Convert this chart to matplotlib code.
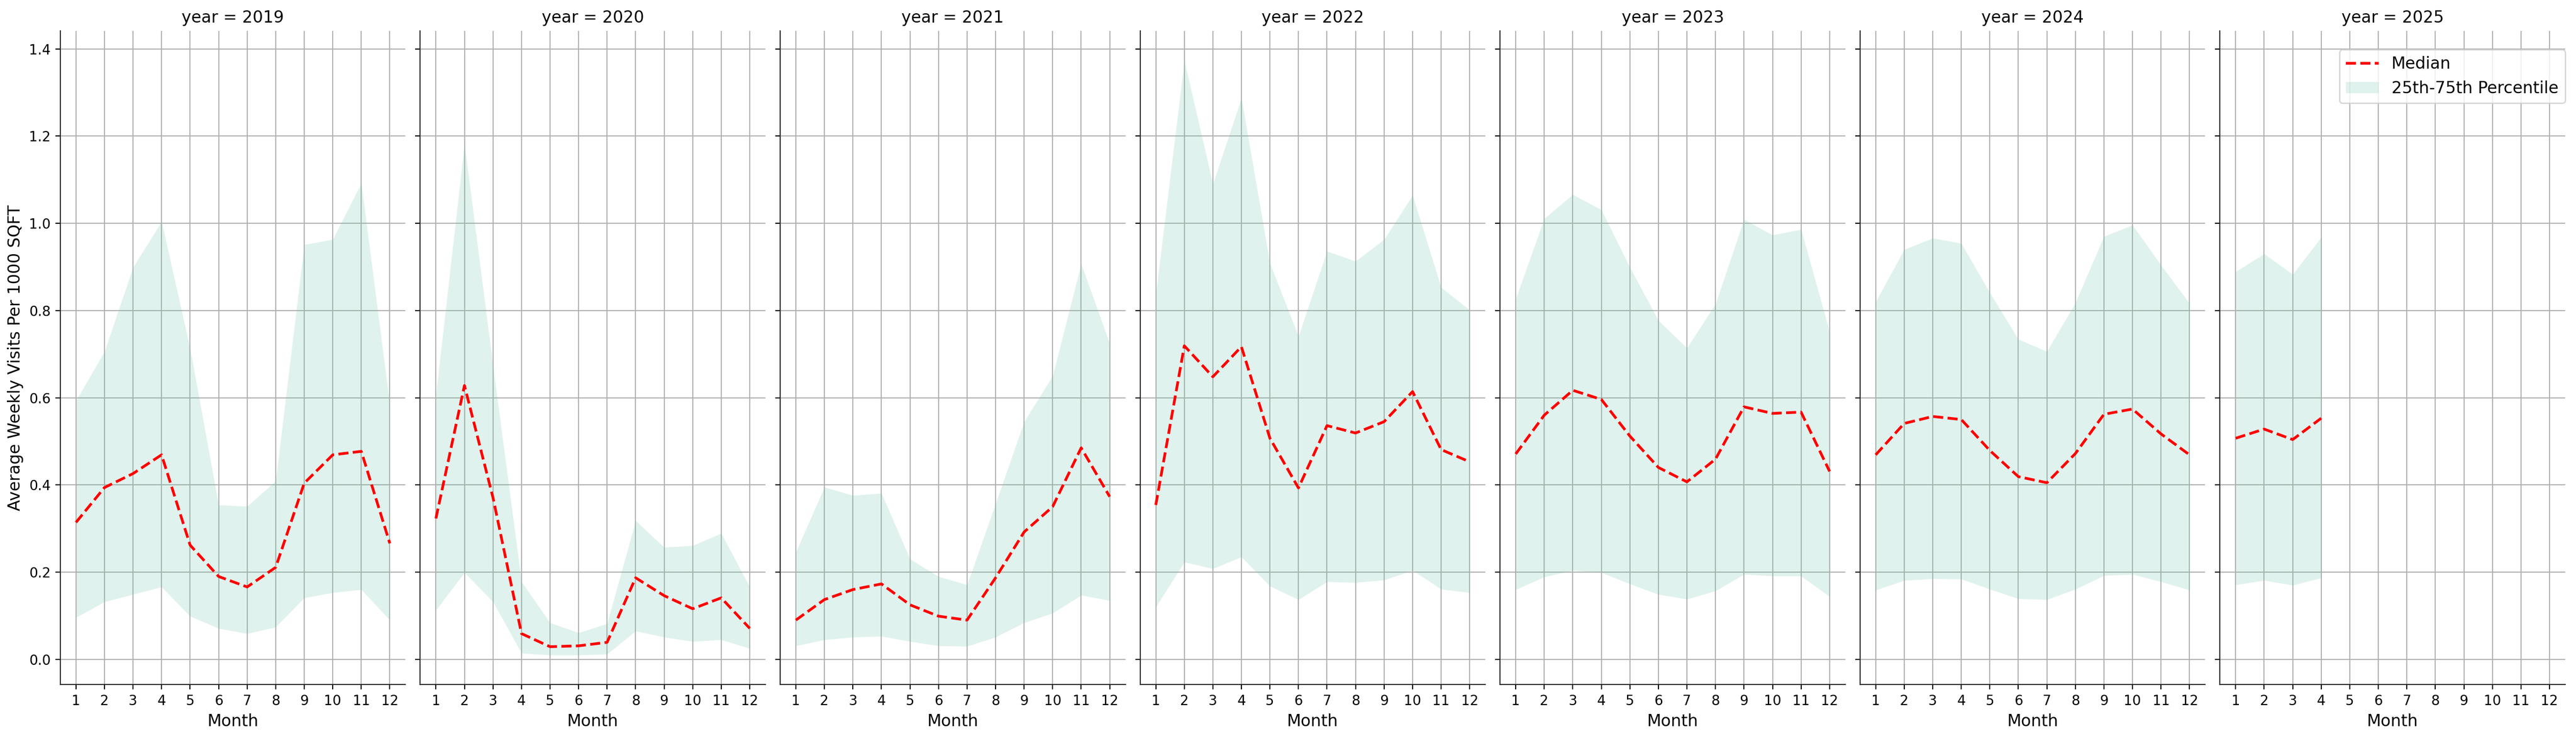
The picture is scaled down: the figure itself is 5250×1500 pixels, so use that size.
import matplotlib
matplotlib.use("Agg")

import matplotlib.pyplot as plt
import numpy as np

years = [2019, 2020, 2021, 2022, 2023, 2024, 2025]
months = list(range(1, 13))

# median / 25th / 75th percentile per month
median = {
    2019: [0.314, 0.394, 0.426, 0.469, 0.262, 0.190, 0.166, 0.211, 0.404, 0.469, 0.477, 0.266],
    2020: [0.323, 0.628, 0.371, 0.059, 0.029, 0.031, 0.039, 0.187, 0.146, 0.116, 0.141, 0.071],
    2021: [0.090, 0.137, 0.160, 0.173, 0.125, 0.099, 0.090, 0.187, 0.292, 0.350, 0.485, 0.373],
    2022: [0.354, 0.719, 0.648, 0.717, 0.507, 0.393, 0.536, 0.519, 0.545, 0.614, 0.481, 0.453],
    2023: [0.471, 0.560, 0.617, 0.596, 0.512, 0.440, 0.407, 0.459, 0.579, 0.564, 0.567, 0.431],
    2024: [0.469, 0.541, 0.557, 0.550, 0.479, 0.419, 0.405, 0.472, 0.562, 0.574, 0.517, 0.469],
    2025: [0.507, 0.528, 0.504, 0.553],
}
p25 = {
    2019: [0.096, 0.132, 0.149, 0.166, 0.099, 0.071, 0.059, 0.074, 0.141, 0.153, 0.160, 0.090],
    2020: [0.113, 0.199, 0.132, 0.014, 0.010, 0.010, 0.012, 0.065, 0.051, 0.041, 0.045, 0.025],
    2021: [0.031, 0.045, 0.051, 0.053, 0.041, 0.031, 0.030, 0.051, 0.084, 0.106, 0.147, 0.135],
    2022: [0.120, 0.223, 0.208, 0.235, 0.168, 0.137, 0.178, 0.176, 0.182, 0.204, 0.161, 0.153],
    2023: [0.160, 0.189, 0.204, 0.199, 0.173, 0.149, 0.138, 0.157, 0.195, 0.191, 0.191, 0.144],
    2024: [0.159, 0.181, 0.185, 0.184, 0.161, 0.139, 0.137, 0.161, 0.192, 0.195, 0.178, 0.159],
    2025: [0.171, 0.181, 0.170, 0.187],
}
p75 = {
    2019: [0.593, 0.706, 0.899, 1.004, 0.713, 0.354, 0.351, 0.409, 0.951, 0.963, 1.092, 0.584],
    2020: [0.607, 1.182, 0.674, 0.178, 0.084, 0.061, 0.082, 0.318, 0.257, 0.261, 0.289, 0.166],
    2021: [0.246, 0.395, 0.376, 0.381, 0.230, 0.190, 0.171, 0.357, 0.545, 0.650, 0.907, 0.724],
    2022: [0.837, 1.373, 1.090, 1.287, 0.908, 0.741, 0.936, 0.913, 0.963, 1.064, 0.853, 0.801],
    2023: [0.827, 1.011, 1.066, 1.031, 0.899, 0.777, 0.714, 0.815, 1.009, 0.973, 0.986, 0.751],
    2024: [0.820, 0.940, 0.966, 0.954, 0.841, 0.734, 0.706, 0.818, 0.970, 0.996, 0.904, 0.816],
    2025: [0.889, 0.930, 0.883, 0.968],
}

fig, axes = plt.subplots(1, len(years), figsize=(26.25, 7.5), dpi=200, sharex=True, sharey=True)

for ax, year in zip(axes, years):
    m = months[:len(median[year])]
    ax.set_axisbelow(True)
    ax.grid(True, color="#b0b0b0", linewidth=0.8)
    ax.plot(m, median[year], color="red", linestyle="--", linewidth=2, label="Median")
    ax.fill_between(m, p25[year], p75[year], color="#66c2a5", alpha=0.2,
                    linewidth=0, label="25th-75th Percentile")
    ax.set_title(f"year = {year}", fontsize=12)
    ax.set_xlabel("Month", fontsize=12)
    ax.set_xticks(months)
    ax.tick_params(labelsize=10)
    for side in ("top", "right"):
        ax.spines[side].set_visible(False)
    for side in ("left", "bottom"):
        ax.spines[side].set_color("0.15")

axes[0].set_xlim(0.45, 12.55)
axes[0].set_ylabel("Average Weekly Visits Per 1000 SQFT", fontsize=12)
axes[-1].legend(loc="upper right", bbox_to_anchor=(1.0, 0.9715), borderaxespad=0, fontsize=12)

fig.subplots_adjust(left=0.0234, right=0.9958, bottom=0.0697, top=0.958, wspace=0.0426)
fig.savefig("out.png", dpi=200)
plt.close(fig)
